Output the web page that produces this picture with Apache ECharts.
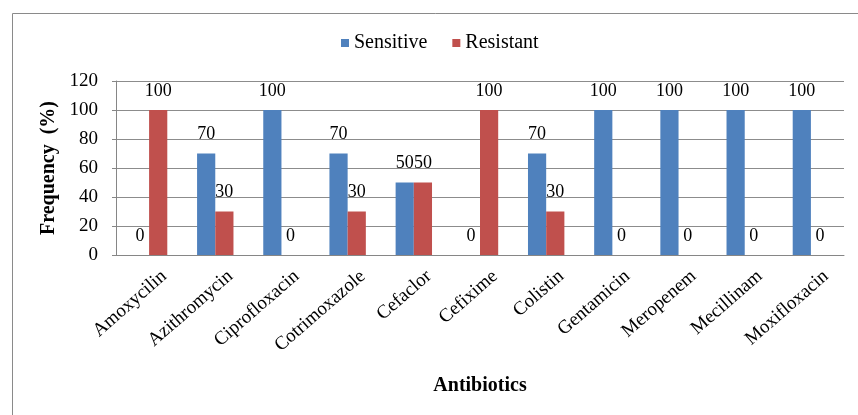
<!DOCTYPE html>
<html>
<head>
<meta charset="utf-8">
<script src="https://cdn.jsdelivr.net/npm/echarts@6/dist/echarts.min.js"></script>
<style>
  html, body { margin: 0; padding: 0; background: #fff; }
  #chart01 { width: 858px; height: 415px; }
</style>
</head>
<body>
<div id="chart01"></div>
<script>
// 数据
var categories = ['Amoxycilin', 'Azithromycin', 'Ciprofloxacin', 'Cotrimoxazole', 'Cefaclor', 'Cefixime', 'Colistin', 'Gentamicin', 'Meropenem', 'Mecillinam', 'Moxifloxacin'];
var sensitive = [0, 70, 100, 70, 50, 0, 70, 100, 100, 100, 100];
var resistant = [100, 30, 0, 30, 50, 100, 30, 0, 0, 0, 0];
var yTicks = [0, 20, 40, 60, 80, 100, 120];

var serif = '"Liberation Serif", "Times New Roman", serif';

var chart01 = echarts.init(document.getElementById('chart01'));
var option = {
  animation: false,
  textStyle: { fontFamily: serif },
  // 外框
  graphic: [{
    type: 'rect',
    shape: { x: 12.5, y: 13.5, width: 900, height: 500 },
    style: { fill: 'none', stroke: '#8a8a8a', lineWidth: 1 }
  }],
  //图例
  legend: {
    data: ['Sensitive', 'Resistant'],
    top: 28,
    left: 336,
    itemGap: 25,
    itemWidth: 8,
    itemHeight: 8,
    icon: 'rect',
    textStyle: { fontSize: 20, color: '#000', fontFamily: serif }
  },
  grid: { left: 116, right: 14, top: 81, bottom: 160 },
  // x轴
  xAxis: {
    type: 'category',
    data: categories,
    name: 'Antibiotics',
    nameLocation: 'middle',
    nameGap: 121,
    nameTextStyle: { fontSize: 20, fontWeight: 'bold', color: '#000', fontFamily: serif },
    axisLine: { lineStyle: { color: '#868686' } },
    axisTick: { show: false },
    axisLabel: {
      interval: 0,
      rotate: 41,
      margin: 32,
      padding: [0, -20, 0, 0],
      fontSize: 19,
      color: '#000',
      fontFamily: serif
    }
  },
  // y轴
  yAxis: {
    type: 'value',
    min: 0,
    max: 120,
    interval: 20,
    name: 'Frequency  (%)',
    nameLocation: 'middle',
    nameGap: 49,
    nameTextStyle: { fontSize: 20, fontWeight: 'bold', color: '#000', fontFamily: serif },
    axisLine: { show: true, lineStyle: { color: '#868686' } },
    axisTick: { show: true, length: 4, lineStyle: { color: '#868686' } },
    splitLine: { lineStyle: { color: '#8c8c8c' } },
    axisLabel: {
      margin: 18,
      fontSize: 19,
      color: '#000',
      fontFamily: serif,
      formatter: function (v) { return yTicks.indexOf(v) >= 0 ? String(v) : ''; }
    }
  },
  series: [
    {
      name: 'Sensitive',
      type: 'bar',
      data: sensitive,
      barGap: '0%',
      barCategoryGap: '45%',
      itemStyle: { color: '#4F81BD' },
      label: { show: true, position: 'top', distance: 10, fontSize: 18, color: '#000', fontFamily: serif }
    },
    {
      name: 'Resistant',
      type: 'bar',
      data: resistant,
      itemStyle: { color: '#C0504D' },
      label: { show: true, position: 'top', distance: 10, fontSize: 18, color: '#000', fontFamily: serif }
    }
  ]
};
chart01.setOption(option);
</script>
</body>
</html>
